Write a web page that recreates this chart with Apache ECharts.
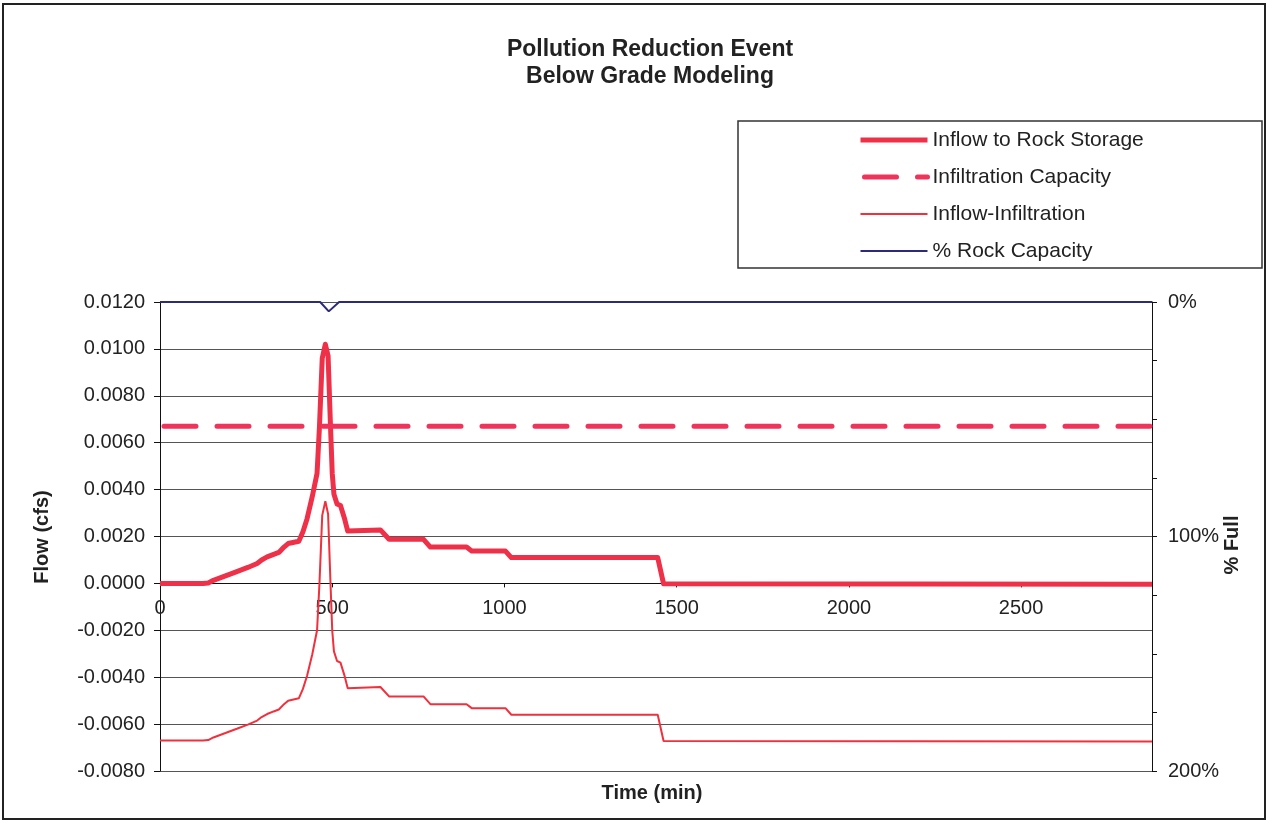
<!DOCTYPE html>
<html>
<head>
<meta charset="utf-8">
<script src="https://cdn.jsdelivr.net/npm/echarts@6/dist/echarts.min.js"></script>
<style>
html,body{margin:0;padding:0;background:#fff;}
#chart{width:1272px;height:825px;}
</style>
</head>
<body>
<div id="chart"></div>
<script>
// ---- Data ----
const timeMin = [0,125,140,155,190,223,255,282,295,311,330,345,360,372,403,415,427,442,456,463,471,480,488,495,500,505,514,524,535,545,640,665,765,785,890,905,1003,1020,1445,1462,2880];
const inflowToRock = [0,0,0.00002,0.00013,0.00032,0.0005,0.00068,0.00085,0.001,0.00113,0.00124,0.00132,0.00155,0.0017,0.0018,0.0022,0.00276,0.0037,0.0047,0.0067,0.0096,0.0102,0.0097,0.0067,0.0047,0.0038,0.00339,0.00332,0.0028,0.00223,0.00228,0.00188,0.00188,0.00155,0.00155,0.00138,0.00138,0.0011,0.0011,-0.00002,-0.00004];
const inflowMinusInfil = [-0.0067,-0.0067,-0.00668,-0.00657,-0.00638,-0.0062,-0.00602,-0.00585,-0.0057,-0.00557,-0.00546,-0.00538,-0.00515,-0.005,-0.0049,-0.0045,-0.00394,-0.00303,-0.002,0,0.0029,0.0035,0.00296,0,-0.002,-0.0029,-0.00331,-0.00338,-0.0039,-0.00447,-0.00442,-0.00482,-0.00482,-0.00515,-0.00515,-0.00532,-0.00532,-0.0056,-0.0056,-0.00672,-0.00674];
const capTime = [0, 2880];
const infilCapacity = [0.0067, 0.0067];
const rockTime = [0, 465, 490, 520, 2880];
const rockPctFull = [0, 0, 4, 0, 0];

const seriesNames = ['Inflow to Rock Storage','Infiltration Capacity','Inflow-Infiltration','% Rock Capacity'];
const titleLines = ['Pollution Reduction Event','Below Grade Modeling'];

function pairs(xs, ys){ return xs.map((x,i)=>[x, ys[i]]); }

const FONT = "'Liberation Sans', Arial, sans-serif";
const TXT = '#222';

// layout of the plot area
const GRID = {left: 160, right: 120, top: 302, bottom: 54};
const Y_MIN = -0.008, Y_MAX = 0.012;
const plotH = 825 - GRID.top - GRID.bottom;
// move the category (time) axis up onto the zero flow line
const zeroOffset = -plotH * (0 - Y_MIN) / (Y_MAX - Y_MIN);

const chart = echarts.init(document.getElementById('chart'), null, {renderer:'canvas'});
const option = {
  animation: false,
  backgroundColor: '#fff',
  textStyle: {fontFamily: FONT, color: TXT},
  title: {
    text: titleLines.join('\n'),
    left: 650, top: 36, padding: 0,
    textAlign: 'center',
    textStyle: {fontFamily: FONT, fontSize: 23, fontWeight: 'bold', lineHeight: 27, color: TXT}
  },
  legend: {
    data: [
      {name: seriesNames[0], lineStyle: {width: 5}},
      {name: seriesNames[1], lineStyle: {width: 5}},
      {name: seriesNames[2], lineStyle: {width: 2}},
      {name: seriesNames[3], lineStyle: {width: 2}}
    ],
    orient: 'vertical',
    left: 858, top: 129, padding: 0,
    itemWidth: 67, itemHeight: 14, itemGap: 15,
    itemStyle: {color: 'rgba(0,0,0,0)', borderColor: 'rgba(0,0,0,0)', borderWidth: 0, opacity: 0},
    textStyle: {fontFamily: FONT, fontSize: 21, lineHeight: 22, color: TXT},
    selectedMode: false
  },
  grid: {left: GRID.left, right: GRID.right, top: GRID.top, bottom: GRID.bottom, containLabel: false},
  xAxis: {
    type: 'value', min: 0, max: 2880, interval: 500,
    position: 'bottom', offset: zeroOffset,
    axisLine: {show: true, onZero: false, lineStyle: {color: '#111', width: 1}},
    axisTick: {show: true, inside: false, length: 4, lineStyle: {color: '#111'}},
    axisLabel: {margin: 15, fontSize: 20, color: TXT, fontFamily: FONT, showMaxLabel: false,
      formatter: v => String(v)},
    splitLine: {show: false}
  },
  yAxis: [
    {
      type: 'value', min: Y_MIN, max: Y_MAX, interval: 0.002,
      axisLine: {show: true, onZero: false, lineStyle: {color: '#111', width: 1}},
      axisTick: {show: true, inside: false, length: 6, lineStyle: {color: '#111'}},
      axisLabel: {margin: 15, fontSize: 20, color: TXT, fontFamily: FONT,
        formatter: v => Math.abs(v) < 1e-9 ? '0.0000' : v.toFixed(4)},
      splitLine: {show: true, lineStyle: {color: '#555', width: 1}}
    },
    {
      type: 'value', position: 'right', min: 0, max: 200, interval: 25, inverse: true,
      axisLine: {show: true, onZero: false, lineStyle: {color: '#111', width: 1}},
      axisTick: {show: true, inside: false, length: 5, lineStyle: {color: '#111'}},
      axisLabel: {margin: 16, fontSize: 20, color: TXT, fontFamily: FONT,
        formatter: v => (Math.round(v) % 100 === 0) ? Math.round(v) + '%' : ''},
      splitLine: {show: false}
    }
  ],
  series: [
    {
      name: seriesNames[0], type: 'line', yAxisIndex: 0, symbol: 'none', z: 3,
      data: pairs(timeMin, inflowToRock),
      itemStyle: {color: '#ee3148'},
      lineStyle: {color: '#ee3148', width: 5, join: 'round'}
    },
    {
      name: seriesNames[1], type: 'line', yAxisIndex: 0, symbol: 'none', z: 4,
      data: pairs(capTime, infilCapacity),
      itemStyle: {color: '#f0335a'},
      lineStyle: {color: '#f0335a', width: 5, type: [32, 21], cap: 'round', dashOffset: -4}
    },
    {
      name: seriesNames[2], type: 'line', yAxisIndex: 0, symbol: 'none', z: 5,
      data: pairs(timeMin, inflowMinusInfil),
      itemStyle: {color: '#f0303c'},
      lineStyle: {color: '#f0303c', width: 2}
    },
    {
      name: seriesNames[3], type: 'line', yAxisIndex: 1, symbol: 'none', z: 6,
      data: pairs(rockTime, rockPctFull),
      itemStyle: {color: '#2b2b7a'},
      lineStyle: {color: '#2b2b7a', width: 2}
    }
  ],
  graphic: [
    {type: 'rect', z: -10, silent: true, shape: {x: 3, y: 4, width: 1262, height: 815},
      style: {fill: 'none', stroke: '#222', lineWidth: 2}},
    {type: 'rect', z: 1, silent: true, shape: {x: 738, y: 121, width: 524, height: 147},
      style: {fill: 'none', stroke: '#333', lineWidth: 1.5}},
    {type: 'text', x: 42, y: 537, rotation: Math.PI / 2, silent: true,
      style: {text: 'Flow (cfs)', font: 'bold 20px ' + FONT, fill: TXT, textAlign: 'center', textVerticalAlign: 'middle'}},
    {type: 'text', x: 1232, y: 545, rotation: Math.PI / 2, silent: true,
      style: {text: '% Full', font: 'bold 20px ' + FONT, fill: TXT, textAlign: 'center', textVerticalAlign: 'middle'}},
    {type: 'text', x: 652, y: 793, silent: true,
      style: {text: 'Time (min)', font: 'bold 20px ' + FONT, fill: TXT, textAlign: 'center', textVerticalAlign: 'middle'}}
  ]
};
chart.setOption(option);
</script>
</body>
</html>
